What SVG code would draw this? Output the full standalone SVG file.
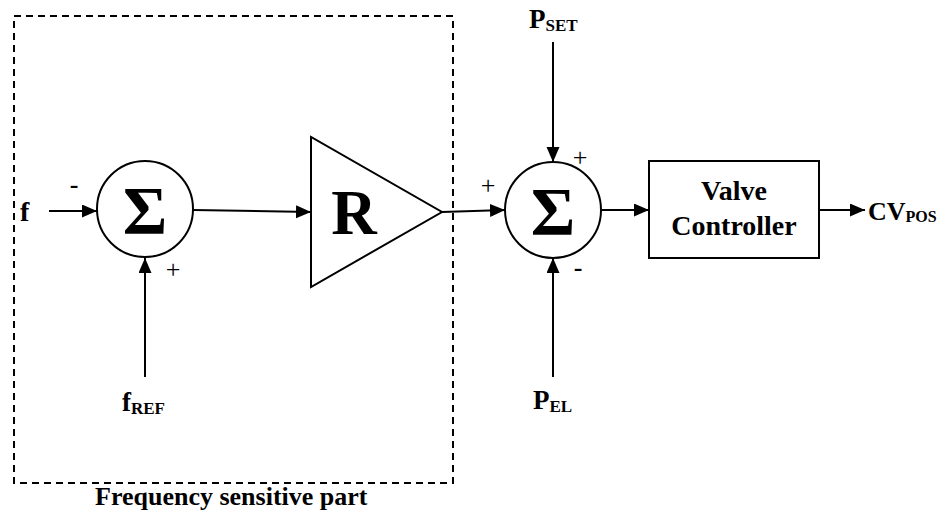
<svg xmlns="http://www.w3.org/2000/svg" width="949" height="516" viewBox="0 0 949 516">
<style>
.ln{stroke:#000;stroke-width:2;fill:none}
.sh{stroke:#000;stroke-width:2;fill:#fff}
.t{font-family:"Liberation Serif","Times New Roman",serif;font-weight:bold;fill:#000}
.s{font-family:"Liberation Serif","Times New Roman",serif;fill:#000}
</style>
<defs>
<marker id="ah" markerUnits="userSpaceOnUse" markerWidth="16" markerHeight="14" refX="15" refY="6.5" orient="auto">
<path d="M0,0 L15,6.5 L0,13 Z" fill="#000"/>
</marker>
</defs>
<rect x="14" y="16" width="439" height="467" fill="none" stroke="#000" stroke-width="2" stroke-dasharray="7,5"/>
<text class="t" x="95" y="505" font-size="26">Frequency sensitive part</text>
<g id="connectors">
<line class="ln" x1="49" y1="211" x2="97" y2="211" marker-end="url(#ah)"/>
<line class="ln" x1="145" y1="377" x2="145" y2="258" marker-end="url(#ah)"/>
<line class="ln" x1="193" y1="210" x2="311" y2="212" marker-end="url(#ah)"/>
<line class="ln" x1="442" y1="212" x2="505" y2="210" marker-end="url(#ah)"/>
<line class="ln" x1="553" y1="42" x2="553" y2="162" marker-end="url(#ah)"/>
<line class="ln" x1="553" y1="377" x2="553" y2="258" marker-end="url(#ah)"/>
<line class="ln" x1="601" y1="210" x2="649" y2="210" marker-end="url(#ah)"/>
<line class="ln" x1="819" y1="210" x2="865" y2="210" marker-end="url(#ah)"/>
</g>
<g id="f"><text class="t" x="20" y="221" font-size="28">f</text></g>
<g id="fref"><text class="t" x="122" y="411" font-size="27">f<tspan font-size="17" dy="3">REF</tspan></text></g>
<g id="sum1">
<circle class="sh" cx="145" cy="209" r="48"/>
<text class="t" x="145" y="233" font-size="68" text-anchor="middle">Σ</text>
<text class="t" x="74" y="193" font-size="26" text-anchor="middle">-</text>
<text class="s" x="173" y="278" font-size="26" text-anchor="middle">+</text>
</g>
<g id="gainR">
<polygon class="sh" points="311,137 311,287 442,212"/>
<text class="t" x="354" y="234" font-size="63" text-anchor="middle">R</text>
</g>
<g id="sum2">
<circle class="sh" cx="553" cy="210" r="48"/>
<text class="t" x="553" y="234" font-size="68" text-anchor="middle">Σ</text>
<text class="s" x="488" y="194" font-size="26" text-anchor="middle">+</text>
<text class="s" x="580" y="166" font-size="26" text-anchor="middle">+</text>
<text class="t" x="578" y="276" font-size="26" text-anchor="middle">-</text>
</g>
<g id="pset"><text class="t" x="529" y="28" font-size="27">P<tspan font-size="17" dy="3">SET</tspan></text></g>
<g id="pel"><text class="t" x="533" y="409" font-size="27">P<tspan font-size="17" dy="3">EL</tspan></text></g>
<g id="valve">
<rect class="sh" x="649" y="161" width="170" height="97"/>
<text class="t" x="734" y="200" font-size="28" text-anchor="middle">Valve</text>
<text class="t" x="734" y="235" font-size="28" text-anchor="middle">Controller</text>
</g>
<g id="cvpos"><text class="t" x="868" y="220" font-size="26">CV<tspan font-size="16" dy="2">POS</tspan></text></g>
</svg>
